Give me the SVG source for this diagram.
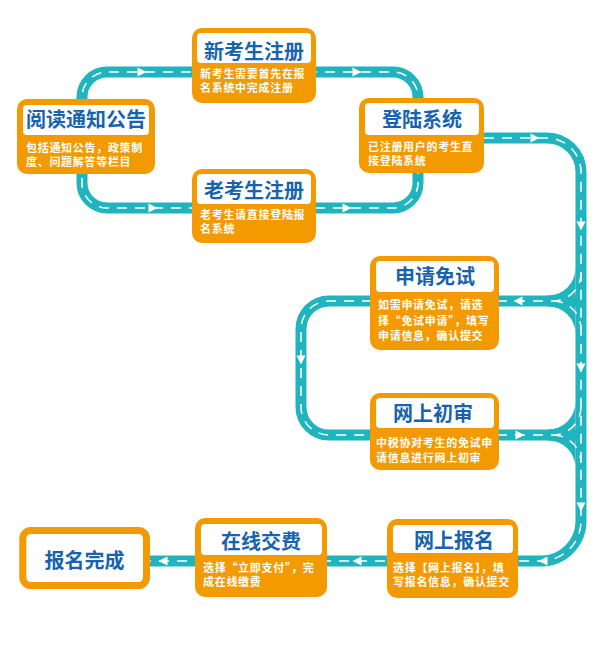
<svg xmlns="http://www.w3.org/2000/svg" xmlns:xlink="http://www.w3.org/1999/xlink" width="595" height="650" viewBox="0 0 595 650">
<style>
.road{fill:none;stroke:#1FB4BE;stroke-width:11}
.dash{fill:none;stroke:#FFFFFF;stroke-width:1.5;stroke-dasharray:10 8}
.fillet{fill:#1FB4BE}
.arr{fill:#FFFFFF}
.box{fill:#F39A00}
.hdr{fill:#FFFFFF}
.title{font-family:"Noto Sans CJK SC","Noto Sans",sans-serif;font-weight:700;font-size:20px;fill:#1763AE;text-anchor:middle}
.desc{font-family:"Liberation Sans","Noto Sans CJK SC",sans-serif;font-weight:700;font-size:11px;letter-spacing:0.7px;fill:#FFFFFF}
.q{font-family:"Noto Sans CJK SC",sans-serif}
</style>
<defs>
<path id="pTop" d="M 82 110 L 82 97 A 25 25 0 0 1 107 72 L 393 72 A 25 25 0 0 1 418 97 L 418 110"/>
<path id="pBot" d="M 82 160 L 82 183 A 25 25 0 0 0 107 208 L 393 208 A 25 25 0 0 0 418 183 L 418 160"/>
<path id="pMain" d="M 484 138 L 547 138 A 34 34 0 0 1 581 172 L 581 521 A 40 40 0 0 1 541 561 L 150 561"/>
<path id="pLoop" d="M 372 301 L 329 301 A 28 28 0 0 0 301 329 L 301 407 A 28 28 0 0 0 329 435 L 372 435"/>
<path id="pJ1" d="M 497 301 L 553 301 A 28 28 0 0 0 581 273 M 553 301 A 28 28 0 0 1 581 329"/>
<path id="pJ2" d="M 497 435 L 553 435 A 28 28 0 0 0 581 407 M 553 435 A 28 28 0 0 1 581 463"/>
<path id="arrow" d="M -4.5 -4.5 L 4.5 0 L -4.5 4.5 Z"/>
</defs>
<g id="connectors">
<use xlink:href="#pTop" href="#pTop" class="road"/>
<use xlink:href="#pBot" href="#pBot" class="road"/>
<use xlink:href="#pMain" href="#pMain" class="road"/>
<use xlink:href="#pLoop" href="#pLoop" class="road"/>
<path class="road" d="M 497 301 L 581 301 M 497 435 L 581 435"/>
<path class="fillet" d="M 575.5 268 A 27.5 27.5 0 0 1 548 295.5 L 548 306.5 A 27.5 27.5 0 0 1 575.5 334 Z"/>
<path class="fillet" d="M 575.5 402 A 27.5 27.5 0 0 1 548 429.5 L 548 440.5 A 27.5 27.5 0 0 1 575.5 468 Z"/>
<use xlink:href="#pTop" href="#pTop" class="dash"/>
<use xlink:href="#pBot" href="#pBot" class="dash"/>
<use xlink:href="#pMain" href="#pMain" class="dash"/>
<use xlink:href="#pLoop" href="#pLoop" class="dash"/>
<use xlink:href="#pJ1" href="#pJ1" class="dash"/>
<use xlink:href="#pJ2" href="#pJ2" class="dash"/>
<use xlink:href="#arrow" href="#arrow" class="arr" transform="translate(142 72)"/>
<use xlink:href="#arrow" href="#arrow" class="arr" transform="translate(357 72)"/>
<use xlink:href="#arrow" href="#arrow" class="arr" transform="translate(153 208)"/>
<use xlink:href="#arrow" href="#arrow" class="arr" transform="translate(347 208)"/>
<use xlink:href="#arrow" href="#arrow" class="arr" transform="translate(535 138)"/>
<use xlink:href="#arrow" href="#arrow" class="arr" transform="translate(581 226) rotate(90)"/>
<use xlink:href="#arrow" href="#arrow" class="arr" transform="translate(518 301) rotate(180)"/>
<use xlink:href="#arrow" href="#arrow" class="arr" transform="translate(301 360) rotate(90)"/>
<use xlink:href="#arrow" href="#arrow" class="arr" transform="translate(581 368) rotate(90)"/>
<use xlink:href="#arrow" href="#arrow" class="arr" transform="translate(520 435)"/>
<use xlink:href="#arrow" href="#arrow" class="arr" transform="translate(581 507) rotate(90)"/>
<use xlink:href="#arrow" href="#arrow" class="arr" transform="translate(543 561) rotate(180)"/>
<use xlink:href="#arrow" href="#arrow" class="arr" transform="translate(357 561) rotate(180)"/>
<use xlink:href="#arrow" href="#arrow" class="arr" transform="translate(163 561) rotate(180)"/>
</g>
<g id="n-read">
<rect class="box" x="17" y="99" width="138" height="75" rx="10"/>
<rect class="hdr" x="23" y="105" width="126" height="30" rx="4"/>
<text class="title" x="86" y="127">阅读通知公告</text>
<text class="desc" x="26" y="152.2">包括通知公告，政策制</text>
<text class="desc" x="26" y="165.8">度、问题解答等栏目</text>
</g>
<g id="n-new">
<rect class="box" x="192" y="28" width="124" height="75" rx="10"/>
<rect class="hdr" x="197" y="33" width="114" height="30" rx="4"/>
<text class="title" x="254" y="58.6">新考生注册</text>
<text class="desc" x="200" y="78.4">新考生需要首先在报</text>
<text class="desc" x="200" y="92.4">名系统中完成注册</text>
</g>
<g id="n-old">
<rect class="box" x="192" y="169" width="124" height="74" rx="10"/>
<rect class="hdr" x="197" y="174" width="114" height="30" rx="4"/>
<text class="title" x="254" y="197.6">老考生注册</text>
<text class="desc" x="200" y="219.4">老考生请直接登陆报</text>
<text class="desc" x="200" y="233.4">名系统</text>
</g>
<g id="n-login">
<rect class="box" x="359" y="98" width="125" height="75" rx="10"/>
<rect class="hdr" x="365" y="103" width="114" height="32" rx="4"/>
<text class="title" x="422" y="127">登陆系统</text>
<text class="desc" x="368" y="151.4">已注册用户的考生直</text>
<text class="desc" x="368" y="165.4">接登陆系统</text>
</g>
<g id="n-exempt">
<rect class="box" x="370" y="256" width="129" height="94" rx="10"/>
<rect class="hdr" x="376" y="261" width="118" height="31" rx="4"/>
<text class="title" x="435" y="283.6">申请免试</text>
<text class="desc" x="378" y="309.4">如需申请免试，请选</text>
<text class="desc" x="378" y="325.4">择<tspan class="q">“</tspan>免试申请<tspan class="q">”</tspan>，填写</text>
<text class="desc" x="378" y="340.4">申请信息，确认提交</text>
</g>
<g id="n-review">
<rect class="box" x="370" y="393" width="129" height="77" rx="10"/>
<rect class="hdr" x="376" y="398" width="118" height="30" rx="4"/>
<text class="title" x="433" y="420.6">网上初审</text>
<text class="desc" x="376" y="447.4">中税协对考生的免试申</text>
<text class="desc" x="376" y="462.4">请信息进行网上初审</text>
</g>
<g id="n-signup">
<rect class="box" x="387" y="519" width="131" height="79" rx="10"/>
<rect class="hdr" x="393" y="525" width="120" height="28" rx="4"/>
<text class="title" x="454" y="547.5">网上报名</text>
<text class="desc" x="393" y="572.2">选择【网上报名】，填</text>
<text class="desc" x="393" y="585.8">写报名信息，确认提交</text>
</g>
<g id="n-pay">
<rect class="box" x="195" y="518" width="132" height="79" rx="10"/>
<rect class="hdr" x="201" y="524" width="121" height="31" rx="4"/>
<text class="title" x="261" y="548.5">在线交费</text>
<text class="desc" x="203" y="572.4">选择<tspan class="q">“</tspan>立即支付<tspan class="q">”</tspan>，完</text>
<text class="desc" x="203" y="586.4">成在线缴费</text>
</g>
<g id="n-done">
<rect x="22.8" y="530.5" width="123.7" height="55" rx="8" fill="#FFFFFF" stroke="#F39A00" stroke-width="7"/>
<text class="title" x="84.5" y="567.6">报名完成</text>
</g>
</svg>
